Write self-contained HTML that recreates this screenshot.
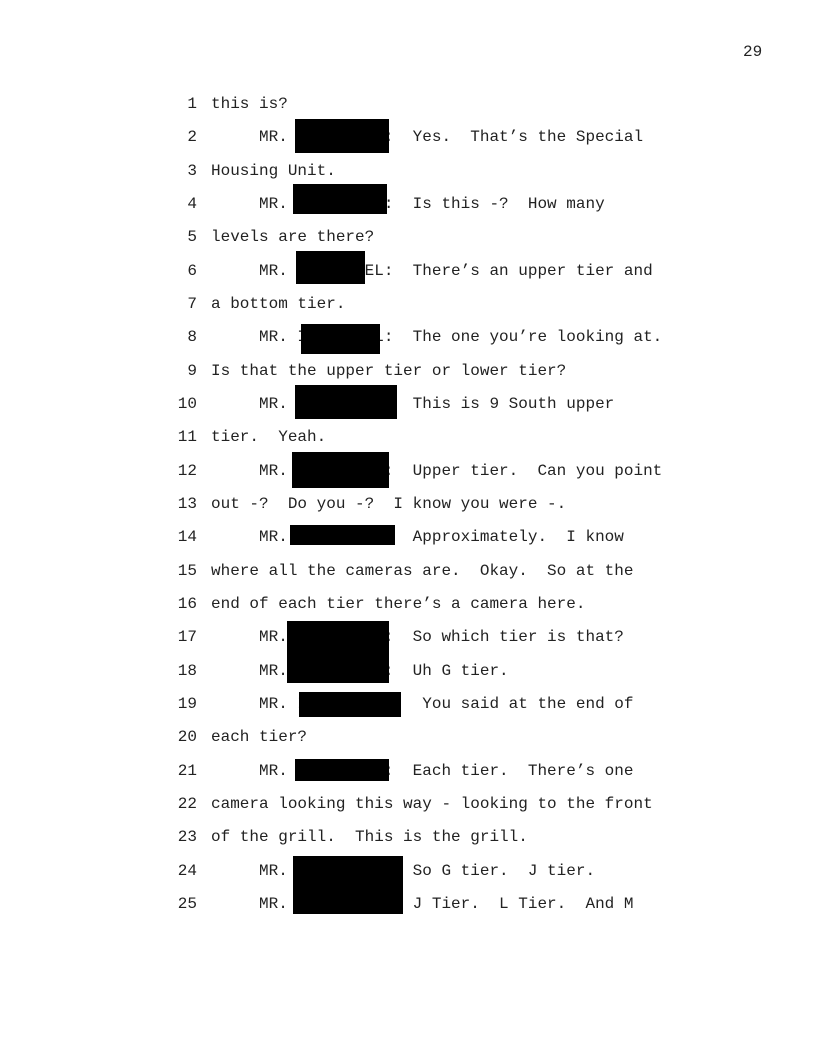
<!DOCTYPE html>
<html><head><meta charset="utf-8"><style>
html,body{margin:0;padding:0;background:#fff;}
body{width:816px;height:1056px;position:relative;overflow:hidden;font-family:"Liberation Mono","Courier New",monospace;font-size:16px;color:#222;}
.l{position:absolute;left:211px;height:20px;line-height:20px;white-space:pre;}
.n{position:absolute;left:160px;width:37px;text-align:right;height:20px;line-height:20px;}
.r{position:absolute;background:#000;}
</style></head><body>
<div style="position:absolute;left:743px;top:42px;line-height:20px;">29</div>

<div class="n" style="top:94px">1</div><div class="l" style="top:94px">this is?</div>
<div class="n" style="top:127px">2</div><div class="l" style="top:127px">     MR. XXXXXXXXX:  Yes.  That’s the Special</div>
<div class="n" style="top:161px">3</div><div class="l" style="top:161px">Housing Unit.</div>
<div class="n" style="top:194px">4</div><div class="l" style="top:194px">     MR. XXXXXXXXX:  Is this -?  How many</div>
<div class="n" style="top:227px">5</div><div class="l" style="top:227px">levels are there?</div>
<div class="n" style="top:261px">6</div><div class="l" style="top:261px">     MR. XXXXXXXEL:  There’s an upper tier and</div>
<div class="n" style="top:294px">7</div><div class="l" style="top:294px">a bottom tier.</div>
<div class="n" style="top:327px">8</div><div class="l" style="top:327px">     MR. IXXXXXXXL:  The one you’re looking at.</div>
<div class="n" style="top:361px">9</div><div class="l" style="top:361px">Is that the upper tier or lower tier?</div>
<div class="n" style="top:394px">10</div><div class="l" style="top:394px">     MR.             This is 9 South upper</div>
<div class="n" style="top:427px">11</div><div class="l" style="top:427px">tier.  Yeah.</div>
<div class="n" style="top:461px">12</div><div class="l" style="top:461px">     MR. XXXXXXXXX:  Upper tier.  Can you point</div>
<div class="n" style="top:494px">13</div><div class="l" style="top:494px">out -?  Do you -?  I know you were -.</div>
<div class="n" style="top:527px">14</div><div class="l" style="top:527px">     MR.             Approximately.  I know</div>
<div class="n" style="top:561px">15</div><div class="l" style="top:561px">where all the cameras are.  Okay.  So at the</div>
<div class="n" style="top:594px">16</div><div class="l" style="top:594px">end of each tier there’s a camera here.</div>
<div class="n" style="top:627px">17</div><div class="l" style="top:627px">     MR. XXXXXXXXX:  So which tier is that?</div>
<div class="n" style="top:661px">18</div><div class="l" style="top:661px">     MR. XXXXXXXXX:  Uh G tier.</div>
<div class="n" style="top:694px">19</div><div class="l" style="top:694px">     MR. I            You said at the end of</div>
<div class="n" style="top:727px">20</div><div class="l" style="top:727px">each tier?</div>
<div class="n" style="top:761px">21</div><div class="l" style="top:761px">     MR. XXXXXXXXX:  Each tier.  There’s one</div>
<div class="n" style="top:794px">22</div><div class="l" style="top:794px">camera looking this way - looking to the front</div>
<div class="n" style="top:827px">23</div><div class="l" style="top:827px">of the grill.  This is the grill.</div>
<div class="n" style="top:861px">24</div><div class="l" style="top:861px">     MR.             So G tier.  J tier.</div>
<div class="n" style="top:894px">25</div><div class="l" style="top:894px">     MR.             J Tier.  L Tier.  And M</div>

<div class="r" style="left:295px;top:119px;width:94px;height:34px"></div>
<div class="r" style="left:293px;top:184px;width:94px;height:30px"></div>
<div class="r" style="left:296px;top:251px;width:69px;height:33px"></div>
<div class="r" style="left:301px;top:324px;width:79px;height:30px"></div>
<div class="r" style="left:295px;top:385px;width:102px;height:34px"></div>
<div class="r" style="left:292px;top:452px;width:97px;height:36px"></div>
<div class="r" style="left:290px;top:525px;width:105px;height:20px"></div>
<div class="r" style="left:287px;top:621px;width:102px;height:62px"></div>
<div class="r" style="left:299px;top:692px;width:102px;height:25px"></div>
<div class="r" style="left:295px;top:759px;width:94px;height:22px"></div>
<div class="r" style="left:293px;top:856px;width:110px;height:58px"></div>
</body></html>
